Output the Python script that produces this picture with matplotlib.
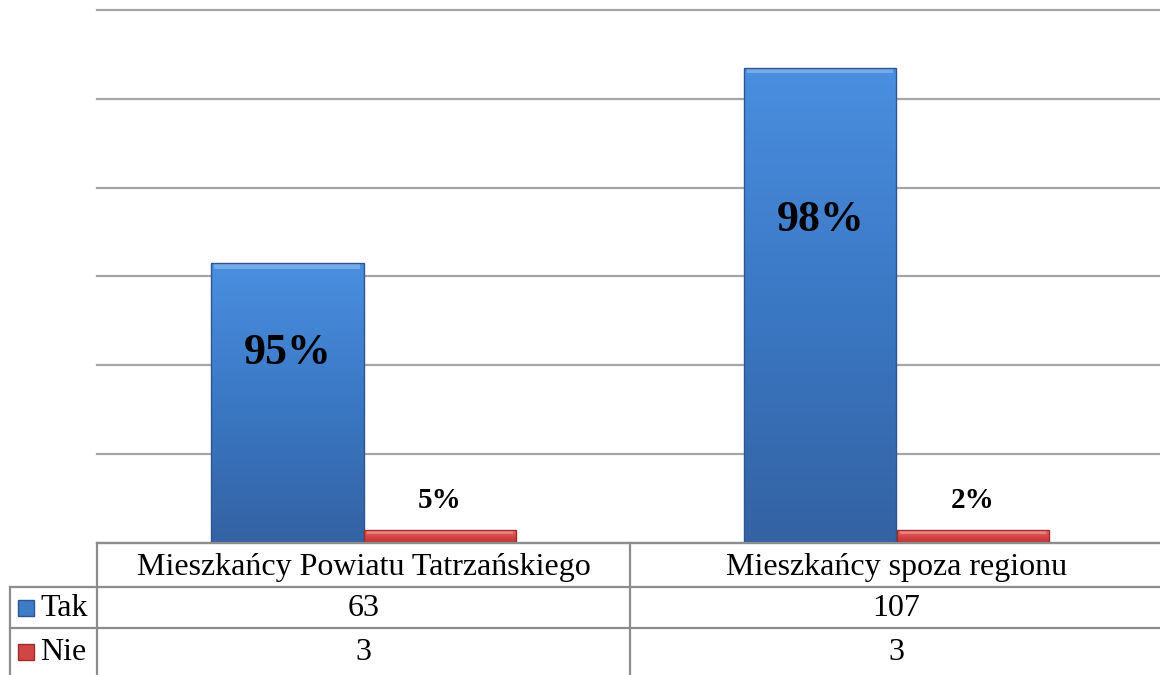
import numpy as np
import matplotlib
matplotlib.use("Agg")
import matplotlib.pyplot as plt
from matplotlib.colors import LinearSegmentedColormap

plt.rcParams['font.family'] = ['Liberation Serif', 'DejaVu Serif']

kategorie = ["Mieszkańcy Powiatu Tatrzańskiego", "Mieszkańcy spoza regionu"]
serie = ["Tak", "Nie"]
tak = [63, 107]
nie = [3, 3]
etykiety_tak = ["95%", "98%"]
etykiety_nie = ["5%", "2%"]

W, H = 1160, 675
fig = plt.figure(figsize=(W / 100, H / 100), dpi=100)

# obszar wykresu (piksele -> ulamki figury)
x_lewo, x_prawo = 97, 1163
y_gora, y_dol = 10, 543
ax = fig.add_axes([x_lewo / W, 1 - y_dol / H, (x_prawo - x_lewo) / W, (y_dol - y_gora) / H])
ax.set_xlim(-0.5, 1.5)
ax.set_ylim(0, 120)
ax.set_yticks(np.arange(0, 121, 20))
ax.yaxis.grid(True, color="#a6a6a6", linewidth=1.6)
for gl in ax.get_ygridlines():
    gl.set_clip_on(False)
ax.set_axisbelow(True)
ax.tick_params(left=False, bottom=False, labelleft=False, labelbottom=False)
for s in ax.spines.values():
    s.set_visible(False)

szer = 0.286
x = np.arange(len(kategorie))

niebieski = LinearSegmentedColormap.from_list("nieb", ["#3462a3", "#3b78c4", "#4a8fe0"])
czerwony = LinearSegmentedColormap.from_list("czer", ["#b93434", "#d94848", "#f07070"])


def slupki(pozycje, wartosci, cmap, krawedz):
    bars = ax.bar(pozycje, wartosci, szer, color="none", edgecolor=krawedz, linewidth=1.0, zorder=3)
    grad = np.linspace(0, 1, 256).reshape(-1, 1)
    for b in bars:
        x0, y0 = b.get_x(), b.get_y()
        im = ax.imshow(grad, extent=[x0, x0 + b.get_width(), y0, y0 + b.get_height()],
                       origin="lower", aspect="auto", cmap=cmap, zorder=2)
        im.set_clip_path(b)
        # jasniejsza fazka na gorze slupka
        h = min(1.2, b.get_height() * 0.3)
        ax.bar(x0 + b.get_width() / 2, h, b.get_width() * 0.96,
               bottom=b.get_height() - h, color="white",
               alpha=0.25, linewidth=0, zorder=2.5)
    return bars


slupki(x - szer / 2, tak, niebieski, "#2d5690")
slupki(x + szer / 2, nie, czerwony, "#9c2c2c")
ax.set_xlim(-0.5, 1.5)
ax.set_ylim(0, 120)

for i in range(len(kategorie)):
    ax.text(x[i] - szer / 2, tak[i] * 0.68, etykiety_tak[i], ha="center", va="center",
            fontsize=31.5, fontweight="bold", zorder=4)
    ax.annotate(etykiety_nie[i], (x[i] + szer / 2, nie[i]), xytext=(0, 11),
                textcoords="offset points", ha="center", va="bottom",
                fontsize=21, fontweight="bold", zorder=4)

# tabela danych pod wykresem
tab = fig.add_axes([0, 0, 1, 1])
tab.set_xlim(0, W)
tab.set_ylim(H, 0)
tab.axis("off")
szary = "#8c8c8c"
lw = 1.6
y_naglowek, y_tak, y_nie = 587, 628, 675
x_srodek = 630
tab.plot([x_lewo, W], [y_dol, y_dol], color=szary, lw=lw)
tab.plot([10, W], [y_naglowek, y_naglowek], color=szary, lw=lw)
tab.plot([10, W], [y_tak, y_tak], color=szary, lw=lw)
tab.plot([x_lewo, x_lewo], [y_dol, H], color=szary, lw=lw)
tab.plot([x_srodek, x_srodek], [y_dol, H], color=szary, lw=lw)
tab.plot([10, 10], [y_naglowek, H], color=szary, lw=lw)

srodki = [(x_lewo + x_srodek) / 2, (x_srodek + x_prawo) / 2]
for i, k in enumerate(kategorie):
    tab.text(srodki[i], (y_dol + y_naglowek) / 2 + 2, k, ha="center", va="center", fontsize=23)
    tab.text(srodki[i], (y_naglowek + y_tak) / 2 + 1, str(tak[i]), ha="center", va="center", fontsize=23)
    tab.text(srodki[i], (y_tak + y_nie) / 2 + 1, str(nie[i]), ha="center", va="center", fontsize=23)

kolory_legendy = [("#3f7cc8", "#2d5690"), ("#d24545", "#9c2c2c")]
wiersze = [(y_naglowek + y_tak) / 2, (y_tak + y_nie) / 2]
for (kol, kraw), yy, nazwa in zip(kolory_legendy, wiersze, serie):
    tab.add_patch(plt.Rectangle((18, yy - 8), 16, 16, facecolor=kol, edgecolor=kraw, lw=1))
    tab.text(40, yy + 1, nazwa, ha="left", va="center", fontsize=23)

fig.savefig("out.png", dpi=100)
